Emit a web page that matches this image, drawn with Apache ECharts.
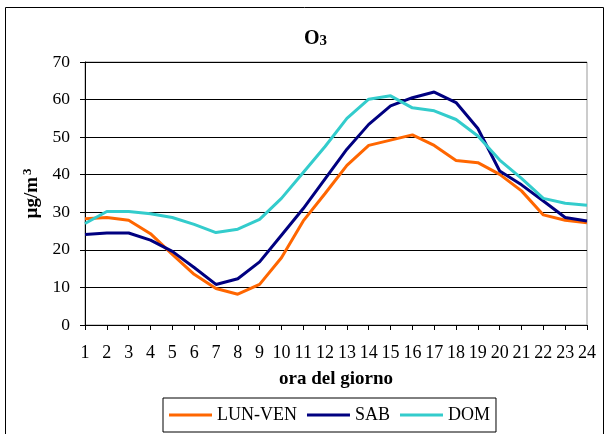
<!DOCTYPE html>
<html><head><meta charset="utf-8">
<script src="https://cdn.jsdelivr.net/npm/echarts@6/dist/echarts.min.js"></script>
<style>html,body{margin:0;padding:0;background:#fff}#c{width:607px;height:434px}</style>
</head><body><div id="c"></div>
<script>
const hours = ['1','2','3','4','5','6','7','8','9','10','11','12','13','14','15','16','17','18','19','20','21','22','23','24'];
const lunVen = [28.3,28.6,27.9,24.3,18.8,13.5,9.7,8.2,10.8,17.9,27.7,35.0,42.5,47.8,49.2,50.6,47.8,43.8,43.2,40.1,35.7,29.3,27.9,27.2];
const sab = [24.1,24.5,24.5,22.6,19.6,15.3,10.8,12.3,16.8,23.9,31.0,38.9,46.8,53.4,58.3,60.5,62.0,59.2,52.3,41.0,37.3,33.0,28.6,27.7];
const dom = [27.0,30.2,30.2,29.6,28.6,26.8,24.6,25.5,28.1,33.7,40.6,47.5,55.0,60.1,61.0,57.8,57.0,54.7,50.3,43.9,39.0,33.7,32.4,31.9];
const seriesNames = ['LUN-VEN','SAB','DOM'];
const colors = ['#FF6600','#000080','#33CCCC'];
const F = '"Liberation Serif","Times New Roman",serif';
const chart = echarts.init(document.getElementById('c'));
chart.setOption({
  animation:false,
  backgroundColor:'#fff',
  graphic:[{type:'rect',shape:{x:5.5,y:7.5,width:598,height:440},style:{fill:'none',stroke:'#000',lineWidth:1},silent:true}],
  title:{text:'{a|O}{b|3}',left:299,top:24,textStyle:{rich:{
    a:{fontFamily:F,fontSize:20,fontWeight:'bold',color:'#000'},
    b:{fontFamily:F,fontSize:15,fontWeight:'bold',color:'#000',verticalAlign:'bottom',padding:[5,0,0,0]}}}},
  grid:{left:85,right:20,top:62,bottom:109,show:true,borderColor:'#999',borderWidth:1},
  legend:{bottom:2,left:163,icon:'rect',itemWidth:43,itemHeight:3,itemGap:10,
    borderColor:'#000',borderWidth:1,padding:[8,6,8,6],
    textStyle:{fontFamily:F,fontSize:18,color:'#000'},data:seriesNames},
  xAxis:{type:'category',data:hours,boundaryGap:false,
    name:'ora del giorno',nameLocation:'middle',nameGap:45,
    nameTextStyle:{fontFamily:F,fontSize:19,fontWeight:'bold',color:'#000'},
    axisLine:{lineStyle:{color:'#000',width:1}},
    axisTick:{show:true,length:5,interval:0,lineStyle:{color:'#000'}},
    axisLabel:{interval:0,fontFamily:F,fontSize:18,color:'#000',margin:19}},
  yAxis:{type:'value',min:0,max:70,interval:10,
    name:'{a|µg/m}{b|3}',nameLocation:'middle',nameGap:42,nameRotate:90,
    nameTextStyle:{rich:{
      a:{fontFamily:F,fontSize:19,fontWeight:'bold',color:'#000'},
      b:{fontFamily:F,fontSize:13,fontWeight:'bold',color:'#000',verticalAlign:'top',padding:[0,0,8,2]}}},
    axisLine:{show:true,lineStyle:{color:'#000',width:1}},
    axisTick:{show:true,length:5,lineStyle:{color:'#000'}},
    axisLabel:{fontFamily:F,fontSize:17.5,color:'#000',margin:15},
    splitLine:{lineStyle:{color:'#000',width:1}}},
  series:[lunVen,sab,dom].map((d,i)=>({name:seriesNames[i],type:'line',data:d,
    showSymbol:false,symbol:'none',lineStyle:{color:colors[i],width:3},itemStyle:{color:colors[i]}}))
});
</script></body></html>
